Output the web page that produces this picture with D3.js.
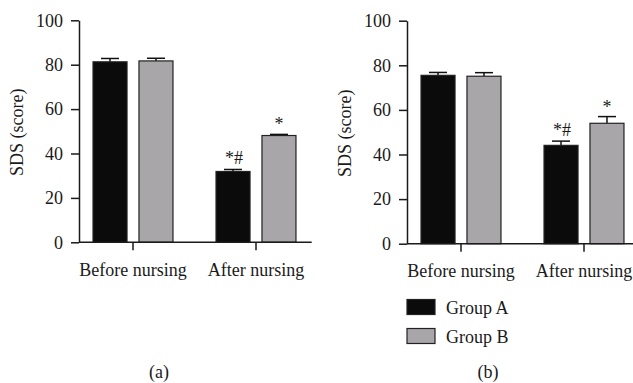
<!DOCTYPE html>
<html><head><meta charset="utf-8">
<script src="https://cdn.jsdelivr.net/npm/d3@7"></script>
<style>
body{margin:0;background:#fff;}
text{font-family:"Liberation Serif","Tinos",serif;fill:#1a1a1a;}
</style></head>
<body><svg id="c" width="633" height="383"></svg>
<script>
const categories = ["Before nursing", "After nursing"];
const groups = ["Group A", "Group B"];
const yTicks = [0, 20, 40, 60, 80, 100];
// panel (a)
const aGroupA = [81.3, 31.9];
const aGroupB = [81.7, 48.1];
const aErrA = [1.5, 0.9];
const aErrB = [1.2, 0.5];
const aMarks = ["*#", "*"];
// panel (b)
const bGroupA = [75.5, 44.1];
const bGroupB = [75.1, 54.0];
const bErrA = [1.3, 1.9];
const bErrB = [1.6, 3.0];
const bMarks = ["*#", "*"];
const captions = ["(a)", "(b)"];

const colors = {"Group A": "#0b0b0b", "Group B": "#a8a6a9"};
const FS = 18;
const FF = "Liberation Serif";
const svg = d3.select("#c");

function panel(dx, yTop, yBot, valsA, valsB, errA, errB, marks, axisEnd) {
  const g = svg.append("g").attr("transform", `translate(${dx},0)`);
  const axX = 79;
  const y = d3.scaleLinear().domain([0, 100]).range([yBot, yTop]);
  const x0 = d3.scaleBand().domain(categories).range([71.5, 317.5])
    .paddingInner(0.35).paddingOuter(0.175);
  const x1 = d3.scaleBand().domain(groups).range([0, x0.bandwidth()])
    .paddingInner(0.26).paddingOuter(0);

  const data = [];
  categories.forEach((c, i) => {
    data.push({c, g: "Group A", v: valsA[i], e: errA[i]});
    data.push({c, g: "Group B", v: valsB[i], e: errB[i]});
  });

  // error bars (upper only)
  const eb = g.append("g");
  data.forEach(d => {
    const cx = x0(d.c) + x1(d.g) + x1.bandwidth() / 2;
    eb.append("line").attr("x1", cx).attr("x2", cx)
      .attr("y1", y(d.v)).attr("y2", y(d.v + d.e))
      .attr("stroke", "#111").attr("stroke-width", 1.5);
    eb.append("line").attr("x1", cx - 9).attr("x2", cx + 9)
      .attr("y1", y(d.v + d.e)).attr("y2", y(d.v + d.e))
      .attr("stroke", "#111").attr("stroke-width", 1.5);
  });

  g.append("g").selectAll("rect").data(data).join("rect")
    .attr("x", d => x0(d.c) + x1(d.g))
    .attr("y", d => y(d.v))
    .attr("width", x1.bandwidth())
    .attr("height", d => y(0) - y(d.v))
    .attr("fill", d => colors[d.g])
    .attr("stroke", "#222").attr("stroke-width", 1.2);

  // significance marks on "After nursing"
  const ai = 1;
  const cxA = x0(categories[ai]) + x1("Group A") + x1.bandwidth() / 2;
  const cxB = x0(categories[ai]) + x1("Group B") + x1.bandwidth() / 2;
  g.append("text").attr("x", cxA + 1).attr("y", y(valsA[ai] + errA[ai]) - 5)
    .attr("text-anchor", "middle").attr("font-size", FS).text(marks[0]);
  g.append("text").attr("x", cxB).attr("y", y(valsB[ai] + errB[ai]) - 4)
    .attr("text-anchor", "middle").attr("font-size", FS).text(marks[1]);

  // y axis
  const ya = g.append("g").attr("transform", `translate(${axX},0)`)
    .call(d3.axisLeft(y).tickValues(yTicks).tickSize(8).tickSizeOuter(0).tickPadding(8));
  ya.attr("font-family", FF);
  ya.select(".domain").attr("stroke", "#1a1a1a").attr("stroke-width", 1.5);
  ya.selectAll(".tick line").attr("stroke", "#1a1a1a").attr("stroke-width", 1.5);
  ya.selectAll("text").attr("font-size", FS).attr("font-family", FF).attr("fill", "#1a1a1a");

  // x axis
  const xa = g.append("g").attr("transform", `translate(0,${y(0)})`)
    .call(d3.axisBottom(x0).tickSize(8).tickSizeOuter(0).tickPadding(13));
  xa.attr("font-family", FF);
  xa.select(".domain").remove();
  xa.selectAll(".tick line").attr("stroke", "#1a1a1a").attr("stroke-width", 1.5);
  xa.selectAll("text").attr("font-size", FS).attr("font-family", FF).attr("fill", "#1a1a1a");
  g.append("line").attr("x1", axX).attr("x2", axisEnd)
    .attr("y1", y(0)).attr("y2", y(0)).attr("stroke", "#1a1a1a").attr("stroke-width", 1.5);

  // y title
  g.append("text").attr("transform", `translate(23,${(yTop + yBot) / 2 + 1}) rotate(-90)`)
    .attr("text-anchor", "middle").attr("font-size", FS).text("SDS (score)");
  return g;
}

panel(0, 20.3, 242.3, aGroupA, aGroupB, aErrA, aErrB, aMarks, 311.7);
panel(328, 20.7, 243.7, bGroupA, bGroupB, bErrA, bErrB, bMarks, 320);

// legend
const leg = svg.append("g");
groups.forEach((gname, i) => {
  leg.append("rect").attr("x", 407).attr("y", 299.5 + i * 29).attr("width", 28).attr("height", 15)
    .attr("fill", colors[gname]).attr("stroke", "#222").attr("stroke-width", 1.2);
  leg.append("text").attr("x", 446).attr("y", 313.5 + i * 29).attr("font-size", FS).text(gname);
});

// captions
svg.append("text").attr("x", 159).attr("y", 377.5).attr("text-anchor", "middle").attr("font-size", FS).text(captions[0]);
svg.append("text").attr("x", 488).attr("y", 377.5).attr("text-anchor", "middle").attr("font-size", FS).text(captions[1]);
</script></body></html>
